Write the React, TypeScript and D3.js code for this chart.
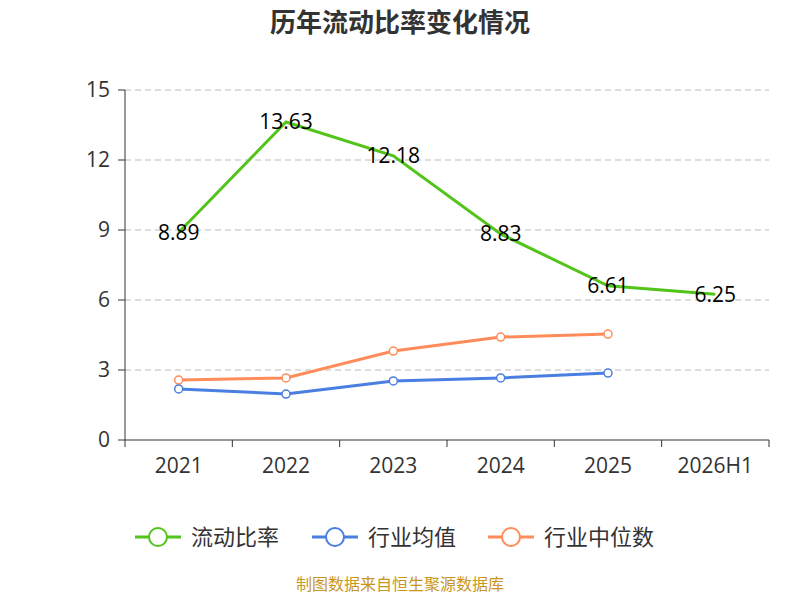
import React from "react";
import * as d3 from "d3";

const categories = ["2021", "2022", "2023", "2024", "2025", "2026H1"];
const currentRatio = [8.89, 13.63, 12.18, 8.83, 6.61, 6.25];
const industryAvg = [2.19, 1.97, 2.53, 2.66, 2.87];
const industryMedian = [2.57, 2.66, 3.81, 4.41, 4.54];
const yTicks = [0, 3, 6, 9, 12, 15];

const FONT = "'Open Sans', 'Noto Sans CJK SC', sans-serif";
const GREEN = "#52c41a";
const BLUE = "#4a7ee0";
const ORANGE = "#ff8c5a";

export default function App() {
  const x = d3.scaleBand().domain(categories).range([125, 769]);
  const y = d3.scaleLinear().domain([0, 15]).range([440, 90]);
  const cx = (c: string) => (x(c) as number) + x.bandwidth() / 2;
  const line = d3.line<[number, number]>().x(d => d[0]).y(d => d[1]);
  const pts = (arr: number[]) => arr.map((v, i) => [cx(categories[i]), y(v)] as [number, number]);

  const legend = [
    { name: "流动比率", color: GREEN, x: 135 },
    { name: "行业均值", color: BLUE, x: 312 },
    { name: "行业中位数", color: ORANGE, x: 488 },
  ];

  return (
    <svg width={800} height={600} style={{ position: "absolute", left: 0, top: 0, fontFamily: FONT }}>
      <rect width={800} height={600} fill="#fff" />
      <text x={400} y={32} textAnchor="middle" fontSize={26} fontWeight="bold" fill="#333">历年流动比率变化情况</text>
      {yTicks.map(t => (
        <g key={t}>
          {t > 0 && <line x1={125} x2={769} y1={y(t)} y2={y(t)} stroke="#bbb" strokeDasharray="6,4" />}
          <line x1={118} x2={125} y1={y(t)} y2={y(t)} stroke="#333" />
          <text x={110} y={y(t)} dy="0.35em" textAnchor="end" fontSize={21} fill="#333">{t}</text>
        </g>
      ))}
      <line x1={125} x2={125} y1={90} y2={440} stroke="#333" />
      <line x1={125} x2={769} y1={440} y2={440} stroke="#333" />
      {categories.map(c => (
        <g key={c}>
          <line x1={(x(c) as number)} x2={(x(c) as number)} y1={440} y2={447} stroke="#333" />
          <text x={cx(c)} y={473} textAnchor="middle" fontSize={21} fill="#333">{c}</text>
        </g>
      ))}
      <line x1={769} x2={769} y1={440} y2={447} stroke="#333" />

      <path d={line(pts(industryMedian)) || ""} fill="none" stroke={ORANGE} strokeWidth={3} />
      {pts(industryMedian).map((p, i) => <circle key={i} cx={p[0]} cy={p[1]} r={4} fill="#fff" stroke={ORANGE} strokeWidth={1.5} />)}
      <path d={line(pts(industryAvg)) || ""} fill="none" stroke={BLUE} strokeWidth={3} />
      {pts(industryAvg).map((p, i) => <circle key={i} cx={p[0]} cy={p[1]} r={4} fill="#fff" stroke={BLUE} strokeWidth={1.5} />)}
      <path d={line(pts(currentRatio)) || ""} fill="none" stroke={GREEN} strokeWidth={3} />
      {pts(currentRatio).map((p, i) => (
        <text key={i} x={p[0]} y={p[1]} dy="0.35em" textAnchor="middle" fontSize={21} fill="#000">{currentRatio[i].toFixed(2)}</text>
      ))}

      {legend.map(l => (
        <g key={l.name}>
          <line x1={l.x} x2={l.x + 46} y1={537} y2={537} stroke={l.color} strokeWidth={3} />
          <circle cx={l.x + 23} cy={537} r={9} fill="#fff" stroke={l.color} strokeWidth={2} />
          <text x={l.x + 56} y={537} dy="0.35em" fontSize={22} fill="#333">{l.name}</text>
        </g>
      ))}
      <text x={400} y={590} textAnchor="middle" fontSize={16} fill="#c8961e">制图数据来自恒生聚源数据库</text>
    </svg>
  );
}
